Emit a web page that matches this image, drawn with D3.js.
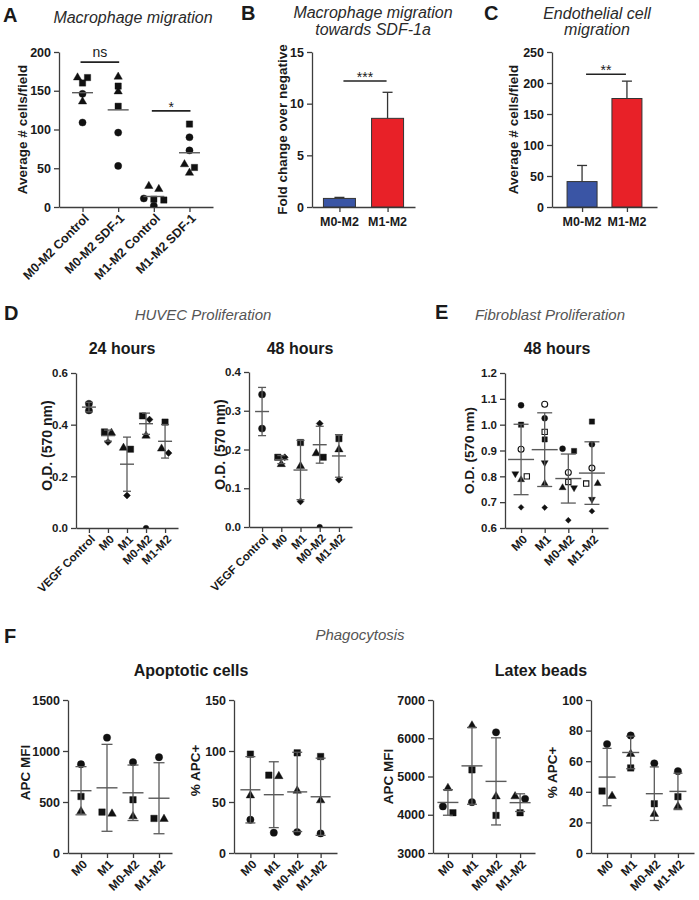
<!DOCTYPE html>
<html><head><meta charset="utf-8">
<script src="https://cdn.jsdelivr.net/npm/d3@7"></script>
<style>
body{margin:0;background:#fff;}
svg text{font-family:"Liberation Sans",Arial,Helvetica,sans-serif;fill:#1a1a1a;}
</style></head><body>
<script>
// ================= DATA =================
// Panel A – Macrophage migration (each donor shape has two replicates per group)
const aCategories = ["M0-M2 Control","M0-M2 SDF-1","M1-M2 Control","M1-M2 SDF-1"];
const aTriangle = [[167,136],[168,149],[23,27],[55,44]];
const aSquare   = [[167,160],[156,130],[9,10],[107,51]];
const aCircle   = [[146,109],[96,53],[11,1.5],[90,73]];
const aTicks = [0,50,100,150,200];
const aSig = [["M0-M2 Control","M0-M2 SDF-1","ns",187],["M1-M2 Control","M1-M2 SDF-1","*",124]];

// Panel B – Macrophage migration towards SDF-1a
const bCategories = ["M0-M2","M1-M2"];
const bValues = [0.83, 8.58];
const bErrors = [0.1, 2.52];
const bTicks = [0,5,10,15];
const bSig = [["M0-M2","M1-M2","***",12.2]];

// Panel C – Endothelial cell migration
const cCategories = ["M0-M2","M1-M2"];
const cValues = [41, 175];
const cErrors = [26, 28];
const cTicks = [0,50,100,150,200,250];
const cSig = [["M0-M2","M1-M2","**",214]];

// Panel D – HUVEC proliferation
const dCategories = ["VEGF Control","M0","M1","M0-M2","M1-M2"];
const d24Circle   = [[0.481,0.455], null, null, null, null];
const d24Square   = [null, 0.372, 0.305, 0.434, 0.41];
const d24Triangle = [null, 0.368, 0.31, 0.357, 0.307];
const d24Diamond  = [null, 0.333, 0.126, 0.42, 0.29];
const d24Excluded = [null, null, null, 0, null];
const d24Ticks = [0,0.2,0.4,0.6];
const d48Circle   = [[0.342,0.254], null, null, null, null];
const d48Square   = [null, 0.18, 0.218, 0.18, 0.228];
const d48Triangle = [null, 0.162, 0.157, 0.19, 0.2];
const d48Diamond  = [null, 0.18, 0.066, 0.267, 0.122];
const d48Excluded = [null, null, null, 0, null];
const d48Ticks = [0,0.1,0.2,0.3,0.4];

// Panel E – Fibroblast proliferation (7 donors)
const eCategories = ["M0","M1","M0-M2","M1-M2"];
const eCircle       = [1.075, 1.025, 0.907, 0.924];
const eSquare       = [1.0, 0.943, 0.898, 1.012];
const eOpenCircle   = [0.905, 1.079, 0.815, 0.832];
const eOpenSquare   = [0.80, 0.972, 0.778, 0.772];
const eTriangle     = [0.787, 0.772, 0.756, 0.772];
const eTriangleDown = [0.81, 0.853, 0.756, 0.711];
const eDiamond      = [0.68, 0.679, 0.63, 0.665];
const eTicks = [0.6,0.7,0.8,0.9,1.0,1.1,1.2];

// Panel F – Phagocytosis (3 donors)
const fCategories = ["M0","M1","M0-M2","M1-M2"];
const fApoMfiCircle   = [870, 1131, 890, 939];
const fApoMfiSquare   = [554, 401, 522, 339];
const fApoMfiTriangle = [408, 385, 359, 333];
const fApoMfiTicks = [0,500,1000,1500];
const fApoPctCircle   = [32.6, 19.9, 20.5, 19.2];
const fApoPctSquare   = [96.9, 76.3, 98.2, 94.6];
const fApoPctTriangle = [56.4, 75.3, 61, 51.6];
const fApoPctTicks = [0,50,100,150];
const fLatMfiCircle   = [4217, 4330, 6156, 4417];
const fLatMfiSquare   = [4052, 5174, 3983, 4052];
const fLatMfiTriangle = [4696, 6330, 4478, 4480];
const fLatMfiTicks = [3000,4000,5000,6000,7000];
const fLatPctCircle   = [71.2, 76.8, 58.6, 53.5];
const fLatPctSquare   = [40.5, 55.6, 32.2, 36.8];
const fLatPctTriangle = [37.2, 64.7, 25.5, 30.5];
const fLatPctTicks = [0,20,40,60,80,100];

// ================= DRAWING =================
const W = 699, H = 900;
const svg = d3.select("body").append("svg").attr("width", W).attr("height", H).style("display","block");
const AXIS = "#3d3d3d", ERR = "#5a5a5a";
let clipId = 0;

const SHAPES = {
  circle:       {type: d3.symbolCircle,   rot: 0,   k: 1.0},
  square:       {type: d3.symbolSquare,   rot: 0,   k: 1.0},
  triangle:     {type: d3.symbolTriangle, rot: 0,   k: 0.75},
  triangleDown: {type: d3.symbolTriangle, rot: 180, k: 0.75},
  diamond:      {type: d3.symbolSquare,   rot: 45,  k: 0.6}
};

function styleAxis(sel, fs){
  sel.select(".domain").attr("stroke", AXIS).attr("stroke-width", 1.3);
  sel.selectAll(".tick line").attr("stroke", AXIS).attr("stroke-width", 1.3);
  sel.selectAll(".tick text").style("font-size", fs + "px").style("font-weight", "bold").attr("fill", "#1a1a1a");
}

function text(x, y, str, o){
  o = o || {};
  const t = svg.append("text").attr("x", x).attr("y", y).text(str)
    .attr("text-anchor", o.anchor || "middle")
    .style("font-size", (o.size || 12) + "px")
    .style("font-weight", o.bold ? "bold" : "normal")
    .style("font-style", o.italic ? "italic" : "normal");
  if (o.fill) t.style("fill", o.fill);
  return t;
}

function yLabel(x, cy, str, fs){
  svg.append("text").attr("transform", `translate(${x},${cy}) rotate(-90)`)
    .attr("text-anchor","middle").attr("dy","0.35em")
    .style("font-size", fs + "px").style("font-weight","bold").text(str);
}

function frame(c){
  const g = svg.append("g");
  const y = d3.scaleLinear().domain(c.domain).range([c.y0, c.yTop]);
  const x = d3.scalePoint().domain(c.cats).range([c.axisX, c.xRight]).padding(c.pad);
  const yg = g.append("g").attr("transform", `translate(${c.axisX},0)`)
    .call(d3.axisLeft(y).tickValues(c.ticks).tickFormat(c.fmt).tickSize(5).tickSizeOuter(0).tickPadding(3));
  styleAxis(yg, c.tickFs);
  const xg = g.append("g").attr("transform", `translate(0,${c.y0})`)
    .call(d3.axisBottom(x).tickSize(5).tickSizeOuter(0).tickFormat(""));
  styleAxis(xg, c.tickFs);
  yLabel(c.ylabX, (c.y0 + c.yTop) / 2 + (c.ylabDy || 0), c.ylab, c.ylabFs || 13.5);
  return {g, x, y};
}

function rotLabels(g, x, cats, y0, fs){
  g.selectAll(null).data(cats).enter().append("text")
    .attr("transform", d => `translate(${x(d) + 4},${y0 + 9}) rotate(-45)`)
    .attr("text-anchor","end").attr("dy","0.35em")
    .style("font-size", fs + "px").style("font-weight","bold").text(d => d);
}

function sigBars(g, x, y, list, inset){
  list.forEach(([a, b, lab, lvl]) => {
    const yy = y(lvl);
    g.append("line").attr("x1", x(a) + inset[0]).attr("x2", x(b) + inset[1])
      .attr("y1", yy).attr("y2", yy).attr("stroke", "#222").attr("stroke-width", 1.6);
    const cx = (x(a) + x(b)) / 2 + (inset[0] + inset[1]) / 2;
    g.append("text").attr("x", cx).attr("y", lab === "ns" ? yy - 5 : yy + 1)
      .attr("text-anchor","middle").style("font-size", lab === "ns" ? "14px" : "14px").text(lab);
  });
}

function scatter(c){
  const {g, x, y} = frame(c);
  rotLabels(g, x, c.cats, c.y0, c.labFs);
  const id = "clip" + (clipId++);
  g.append("clipPath").attr("id", id).append("rect")
    .attr("x", c.axisX).attr("y", c.yTop - 20).attr("width", c.xRight - c.axisX).attr("height", c.y0 - c.yTop + 20);
  const pg = g.append("g").attr("clip-path", `url(#${id})`);

  c.cats.forEach((cat, ci) => {
    const pts = [];
    c.series.forEach(s => {
      const v = s.vals[ci];
      if (v === null || v === undefined) return;
      (Array.isArray(v) ? v : [v]).forEach(val => pts.push({v: val, s}));
    });
    // GraphPad-like horizontal spreading of overlapping points
    const sorted = pts.slice().sort((a, b) => b.v - a.v);
    const rows = [];
    sorted.forEach(p => {
      const last = rows[rows.length - 1];
      if (last && Math.abs(y(last[0].v) - y(p.v)) < c.thresh) last.push(p); else rows.push([p]);
    });
    rows.forEach(r => r.forEach((p, i) => { p.dx = (i - (r.length - 1) / 2) * c.spacing; }));

    const cx = x(cat);
    pts.forEach(p => {
      const sh = SHAPES[p.s.shape];
      const size = c.size * sh.k * (p.s.small ? 0.6 : 1);
      pg.append("path")
        .attr("d", d3.symbol().type(sh.type).size(size)())
        .attr("transform", `translate(${cx + p.dx},${y(p.v)}) rotate(${sh.rot})`)
        .attr("fill", p.s.open ? "#fff" : "#111")
        .attr("stroke", "#111").attr("stroke-width", p.s.open ? 1.1 : 0.4);
    });

    const statVals = pts.filter(p => p.s.stats !== false).map(p => p.v);
    const m = d3.mean(statVals);
    if (c.sd) {
      const sd = d3.deviation(statVals);
      const lo = y(m - sd), hi = y(m + sd);
      g.append("line").attr("x1", cx).attr("x2", cx).attr("y1", lo).attr("y2", hi)
        .attr("stroke", ERR).attr("stroke-width", 1.3);
      [lo, hi].forEach(yy => g.append("line").attr("x1", cx - c.capW / 2).attr("x2", cx + c.capW / 2)
        .attr("y1", yy).attr("y2", yy).attr("stroke", ERR).attr("stroke-width", 1.3));
    }
    g.append("line").attr("x1", cx - c.meanW / 2).attr("x2", cx + c.meanW / 2)
      .attr("y1", y(m)).attr("y2", y(m)).attr("stroke", ERR).attr("stroke-width", 1.4);
  });
  if (c.sig) sigBars(g, x, y, c.sig, [-2, 1]);
}

function bars(c){
  const {g, x, y} = frame(c);
  c.cats.forEach((cat, i) => {
    const cx = x(cat), v = c.values[i], e = c.errors[i];
    g.append("line").attr("x1", cx).attr("x2", cx).attr("y1", y(v)).attr("y2", y(v + e))
      .attr("stroke", "#333").attr("stroke-width", 1.3);
    g.append("line").attr("x1", cx - 5).attr("x2", cx + 5).attr("y1", y(v + e)).attr("y2", y(v + e))
      .attr("stroke", "#333").attr("stroke-width", 1.3);
    g.append("rect").attr("x", cx - c.bw / 2).attr("y", y(v)).attr("width", c.bw).attr("height", c.y0 - y(v))
      .attr("fill", c.colors[i]).attr("stroke", "#333").attr("stroke-width", 1);
    g.append("text").attr("x", cx).attr("y", c.y0 + 19).attr("text-anchor","middle")
      .style("font-size", c.labFs + "px").style("font-weight","bold").text(cat);
  });
  sigBars(g, x, y, c.sig, [4, -1]);
}

// ---------- Panel letters & titles ----------
const LET = {size: 20, bold: true, anchor: "start"};
text(3, 22, "A", LET); text(241, 20, "B", LET); text(484, 20, "C", LET);
text(4, 320, "D", LET); text(435, 319, "E", LET); text(4, 643, "F", LET);

const T1 = {size: 16, italic: true, fill: "#2a2a2a"};
text(133, 23, "Macrophage migration", T1);
text(373, 18, "Macrophage migration", T1);
text(373, 35, "towards SDF-1a", T1);
text(597, 19, "Endothelial cell", T1);
text(597, 35, "migration", T1);
const T2 = {size: 15, italic: true, fill: "#555"};
text(203, 320, "HUVEC Proliferation", T2);
text(550, 320, "Fibroblast Proliferation", T2);
text(360, 640, "Phagocytosis", T2);
const ST = {size: 16, bold: true};
text(122, 354, "24 hours", ST);
text(300, 354, "48 hours", ST);
text(557, 354, "48 hours", ST);
text(191, 676, "Apoptotic cells", ST);
text(541, 676, "Latex beads", ST);

// ---------- Panel A ----------
scatter({
  cats: aCategories, domain: [0, 200], ticks: aTicks, fmt: d3.format("d"),
  axisX: 59, xRight: 213, y0: 207, yTop: 52, pad: 0.66, tickFs: 12.5, labFs: 12.5,
  ylab: "Average # cells/field", ylabX: 22,
  series: [{vals: aTriangle, shape: "triangle"}, {vals: aSquare, shape: "square"}, {vals: aCircle, shape: "circle"}],
  thresh: 5, spacing: 10, size: 40, meanW: 21, sd: false, sig: aSig
});

// ---------- Panel B ----------
bars({
  cats: bCategories, domain: [0, 15], ticks: bTicks, fmt: d3.format("d"),
  axisX: 312, xRight: 415, y0: 207, yTop: 52, pad: 0.57, tickFs: 12.5, labFs: 12.5,
  ylab: "Fold change over negative", ylabX: 282,
  values: bValues, errors: bErrors, bw: 32, colors: ["#3a55a5", "#e82128"], sig: bSig
});

// ---------- Panel C ----------
bars({
  cats: cCategories, domain: [0, 250], ticks: cTicks, fmt: d3.format("d"),
  axisX: 552, xRight: 657, y0: 207, yTop: 52, pad: 0.67, tickFs: 12.5, labFs: 12.5,
  ylab: "Average # cells/field", ylabX: 513,
  values: cValues, errors: cErrors, bw: 30, colors: ["#3a55a5", "#e82128"], sig: cSig
});

// ---------- Panel D ----------
const dSeries24 = [
  {vals: d24Circle, shape: "circle"}, {vals: d24Square, shape: "square"},
  {vals: d24Triangle, shape: "triangle"}, {vals: d24Diamond, shape: "diamond"},
  {vals: d24Excluded, shape: "circle", small: true, stats: false}
];
const dSeries48 = [
  {vals: d48Circle, shape: "circle"}, {vals: d48Square, shape: "square"},
  {vals: d48Triangle, shape: "triangle"}, {vals: d48Diamond, shape: "diamond"},
  {vals: d48Excluded, shape: "circle", small: true, stats: false}
];
scatter({
  cats: dCategories, domain: [0, 0.6], ticks: d24Ticks, fmt: d3.format(".1f"),
  axisX: 76, xRight: 178, y0: 528, yTop: 373, pad: 0.68, tickFs: 11.5, labFs: 11.5,
  ylab: "O.D. (570 nm)", ylabX: 47, ylabFs: 14, ylabDy: -5,
  series: dSeries24, thresh: 5, spacing: 7, size: 40, meanW: 14, capW: 8, sd: true
});
scatter({
  cats: dCategories, domain: [0, 0.4], ticks: d48Ticks, fmt: d3.format(".1f"),
  axisX: 249, xRight: 352, y0: 527, yTop: 372, pad: 0.68, tickFs: 11.5, labFs: 11.5,
  ylab: "O.D. (570 nm)", ylabX: 220, ylabFs: 14, ylabDy: -5,
  series: dSeries48, thresh: 5, spacing: 7, size: 40, meanW: 14, capW: 8, sd: true
});

// ---------- Panel E ----------
scatter({
  cats: eCategories, domain: [0.6, 1.2], ticks: eTicks, fmt: d3.format(".1f"),
  axisX: 505, xRight: 608, y0: 528, yTop: 373, pad: 0.68, tickFs: 11.5, labFs: 12,
  ylab: "O.D. (570 nm)", ylabX: 469, ylabFs: 13.5,
  series: [
    {vals: eCircle, shape: "circle"}, {vals: eSquare, shape: "square"},
    {vals: eOpenCircle, shape: "circle", open: true}, {vals: eOpenSquare, shape: "square", open: true},
    {vals: eTriangle, shape: "triangle"}, {vals: eTriangleDown, shape: "triangleDown"},
    {vals: eDiamond, shape: "diamond"}
  ],
  thresh: 5, spacing: 11.5, size: 28, meanW: 26, capW: 15, sd: true
});

// ---------- Panel F ----------
function fSeries(ci, sq, tr){
  return [{vals: ci, shape: "circle"}, {vals: sq, shape: "square"}, {vals: tr, shape: "triangle"}];
}
const fCommon = {cats: fCategories, y0: 853, yTop: 700, tickFs: 12.5, labFs: 12, thresh: 7, spacing: 10, size: 42, sd: true, ylabFs: 13.5};
scatter(Object.assign({}, fCommon, {
  domain: [0, 1500], ticks: fApoMfiTicks, fmt: d3.format("d"),
  axisX: 68, xRight: 172, pad: 0.5, ylab: "APC MFI", ylabX: 25, ylabDy: -4,
  series: fSeries(fApoMfiCircle, fApoMfiSquare, fApoMfiTriangle), meanW: 21, capW: 11
}));
scatter(Object.assign({}, fCommon, {
  domain: [0, 150], ticks: fApoPctTicks, fmt: d3.format("d"),
  axisX: 234, xRight: 337, pad: 0.7, ylab: "% APC+", ylabX: 195, ylabDy: -6,
  series: fSeries(fApoPctCircle, fApoPctSquare, fApoPctTriangle), meanW: 20, capW: 10
}));
scatter(Object.assign({}, fCommon, {
  domain: [3000, 7000], ticks: fLatMfiTicks, fmt: d3.format("d"),
  axisX: 433, xRight: 535, pad: 0.62, ylab: "APC MFI", ylabX: 388, ylabDy: 0,
  series: fSeries(fLatMfiCircle, fLatMfiSquare, fLatMfiTriangle), meanW: 21, capW: 10
}));
scatter(Object.assign({}, fCommon, {
  domain: [0, 100], ticks: fLatPctTicks, fmt: d3.format("d"),
  axisX: 591, xRight: 694, pad: 0.68, ylab: "% APC+", ylabX: 552, ylabDy: -4,
  series: fSeries(fLatPctCircle, fLatPctSquare, fLatPctTriangle), meanW: 17, capW: 9
}));
</script>
</body></html>
